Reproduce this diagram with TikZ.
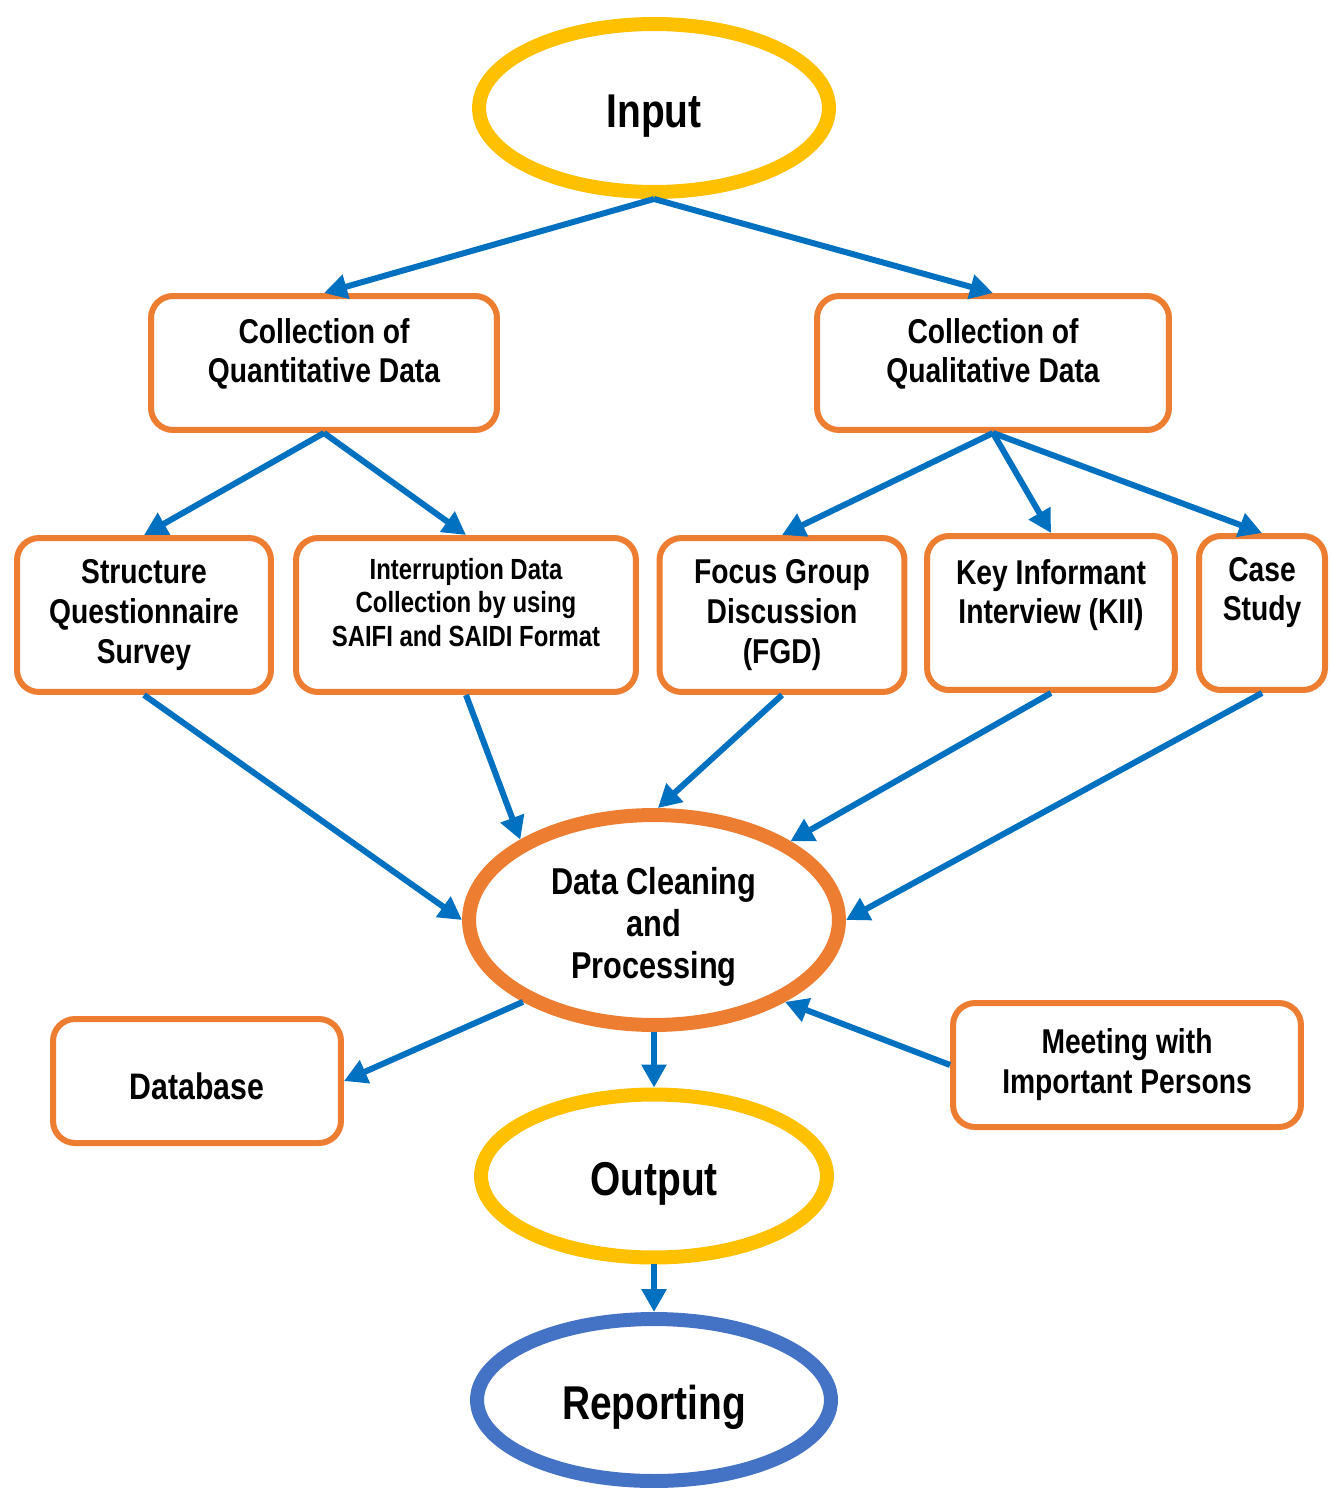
\documentclass[tikz,border=0pt]{standalone}
\usepackage{fontspec}
\newfontfamily\narrowsf{Liberation Sans}[FakeStretch=0.82]
\usetikzlibrary{arrows.meta, shapes.geometric}

\definecolor{inputyellow}{HTML}{FFC000}
\definecolor{boxorange}{HTML}{ED7D31}
\definecolor{flowblue}{HTML}{0070C0}
\definecolor{reportblue}{HTML}{4472C4}

% text block moved up or down inside its box
\newcommand\shiftedlines[2]{\raisebox{#1}[\height][\depth]{\begin{tabular}{@{}c@{}}#2\end{tabular}}}

\begin{document}
\begin{tikzpicture}[x=0.02cm, y=-0.02cm, font=\narrowsf\bfseries,
    stepbox/.style={draw=boxorange, line width=0.12cm, rounded corners=0.44cm,
        align=center, fill=white, font=\narrowsf\bfseries\fontsize{19.6}{22.7}\selectfont},
    bigoval/.style={ellipse, line width=0.28cm, align=center, fill=white,
        font=\narrowsf\bfseries\fontsize{27}{30}\selectfont},
    flow/.style={draw=flowblue, line width=0.12cm,
        -{Triangle[length=0.46cm, width=0.48cm]}}]

    % 1. Frame of the page
    \useasboundingbox (0,0) rectangle (1330,1490);

    % 2. Input and the two kinds of data collection
    \node[bigoval, draw=inputyellow, minimum width=7cm, minimum height=3.36cm] (input) at (654,108)
        {\shiftedlines{-0.18cm}{Input}};
    \node[stepbox, minimum width=6.92cm, minimum height=2.68cm] (quant) at (324,363)
        {\shiftedlines{0.16cm}{Collection of\\Quantitative Data}};
    \node[stepbox, minimum width=7.04cm, minimum height=2.68cm] (qual) at (993,363)
        {\shiftedlines{0.16cm}{Collection of\\Qualitative Data}};

    % 3. The methods row
    \node[stepbox, minimum width=5.08cm, minimum height=3.08cm] (survey) at (144,615) {Structure\\Questionnaire\\Survey};
    \node[stepbox, minimum width=6.8cm, minimum height=3.08cm,
        font=\narrowsf\bfseries\fontsize{16.6}{19}\selectfont] (interrupt) at (466,615)
        {\shiftedlines{0.18cm}{Interruption Data\\Collection by using\\SAIFI and SAIDI Format}};
    \node[stepbox, minimum width=4.9cm, minimum height=3.08cm] (fgd) at (782,615) {Focus Group\\Discussion\\(FGD)};
    \node[stepbox, minimum width=4.96cm, minimum height=3.08cm] (kii) at (1051,613)
        {\shiftedlines{0.34cm}{Key Informant\\Interview (KII)}};
    \node[stepbox, minimum width=2.52cm, minimum height=3.08cm] (case) at (1262,613)
        {\shiftedlines{0.4cm}{Case\\Study}};

    % 4. Processing and what comes after
    \node[bigoval, draw=boxorange, minimum width=7.4cm, minimum height=4.2cm,
        font=\narrowsf\bfseries\fontsize{21.3}{24}\selectfont] (clean) at (654,920)
        {\shiftedlines{-0.16cm}{Data Cleaning\\and\\Processing}};
    \node[stepbox, minimum width=5.76cm, minimum height=2.48cm,
        font=\narrowsf\bfseries\fontsize{21}{24}\selectfont] (database) at (197,1081)
        {\shiftedlines{-0.2cm}{Database}};
    \node[stepbox, minimum width=6.96cm, minimum height=2.48cm] (meeting) at (1127,1065) {Meeting with\\Important Persons};
    \node[bigoval, draw=inputyellow, minimum width=6.92cm, minimum height=3.26cm] (output) at (654,1176)
        {\shiftedlines{-0.18cm}{Output}};
    \node[bigoval, draw=reportblue, minimum width=7.08cm, minimum height=3.24cm] (report) at (654,1400)
        {\shiftedlines{-0.18cm}{Reporting}};

    % 5. Connectors
    \draw[flow] (input.south) -- (quant.north);
    \draw[flow] (input.south) -- (qual.north);
    \draw[flow] (quant.south) -- (survey.north);
    \draw[flow] (quant.south) -- (interrupt.north);
    \draw[flow] (qual.south) -- (fgd.north);
    \draw[flow] (qual.south) -- (kii.north);
    \draw[flow] (qual.south) -- (case.north);

    \draw[flow] (survey.south) -- (clean.west);
    \draw[flow] (interrupt.south) -- (clean.149);
    \draw[flow] (fgd.south) -- (clean.88);
    \draw[flow] (kii.south) -- (clean.30);
    \draw[flow] (case.south) -- (clean.east);

    \draw[flow] (clean.212) -- (database.east);
    \draw[flow] (meeting.west) -- (clean.328);
    \draw[flow] (clean.south) -- (output.north);
    \draw[flow] (output.south) -- (report.north);

\end{tikzpicture}
\end{document}
